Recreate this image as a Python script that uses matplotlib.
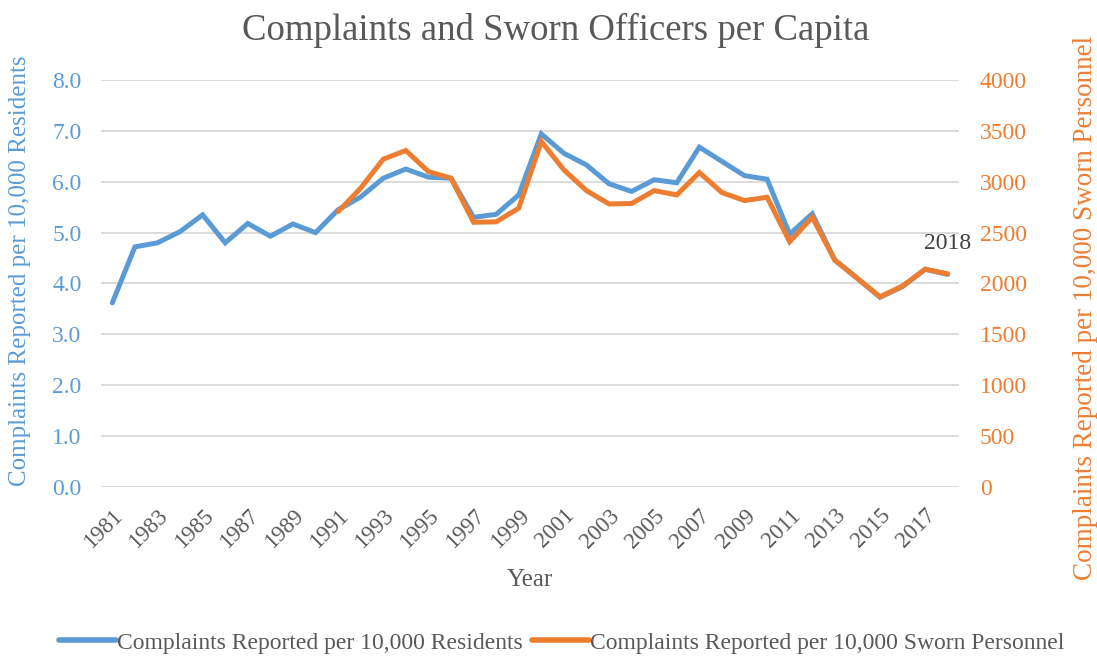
import matplotlib
matplotlib.use("Agg")
import matplotlib.pyplot as plt
from matplotlib.lines import Line2D

plt.rcParams['font.family'] = ['Liberation Serif', 'DejaVu Serif']

years = list(range(1981, 2019))
residents = [3.62, 4.72, 4.80, 5.02, 5.35, 4.80, 5.18, 4.93, 5.17, 5.00,
             5.45, 5.70, 6.07, 6.25, 6.09, 6.07, 5.30, 5.36, 5.74, 6.94,
             6.56, 6.33, 5.96, 5.81, 6.04, 5.98, 6.68, 6.40, 6.12, 6.05,
             4.97, 5.37, 4.46, 4.10, 3.73, 3.94, 4.28, 4.18]
sworn_years = list(range(1991, 2019))
sworn = [2706, 2937, 3222, 3307, 3100, 3035, 2602, 2606, 2740, 3396,
         3117, 2913, 2782, 2786, 2913, 2871, 3091, 2894, 2815, 2848,
         2411, 2651, 2230, 2050, 1870, 1975, 2140, 2095]

blue = '#5B9BD5'
orange = '#ED7D31'
gray = '#595959'

fig = plt.figure(figsize=(10.97, 6.58), dpi=100)
ax = fig.add_axes([0.0921, 0.2599, 0.7821, 0.6185])
ax2 = ax.twinx()

ax.plot(years, residents, color=blue, lw=3.6, solid_capstyle='round', solid_joinstyle='miter', zorder=3)
ax2.plot(sworn_years, sworn, color=orange, lw=3.6, solid_capstyle='round', solid_joinstyle='miter', zorder=3)

ax.set_xlim(1980.5, 2018.5)
ax.set_ylim(0, 8)
ax2.set_ylim(0, 4000)
ax.set_yticks(range(9))
ax.set_yticklabels([f'{i:.1f}' for i in range(9)])
ax2.set_yticks(range(0, 4001, 500))

ax.set_xticks(years[::2])
ax.set_xticklabels([str(y) for y in years[::2]], rotation=45, ha='right',
                   rotation_mode='anchor', color=gray, fontsize=16.5)

ax.grid(axis='y', color='#D9D9D9', lw=1.3)
ax.set_axisbelow(True)
for a in (ax, ax2):
    for s in a.spines.values():
        s.set_visible(False)
    a.tick_params(length=0)
ax.tick_params(axis='y', colors=blue, labelsize=17, pad=14)
ax.tick_params(axis='x', pad=13)
ax2.tick_params(axis='y', colors=orange, labelsize=17, pad=15)

ax.set_xlabel('Year', color=gray, fontsize=18)
ax.xaxis.set_label_coords(0.5, -0.2285)
ax.xaxis.label.set_va('center')
ax.set_ylabel('Complaints Reported per 10,000 Residents', color=blue, fontsize=18)
ax.yaxis.set_label_coords(-0.0944, 0.531)
ax.yaxis.label.set_va('center')
ax2.set_ylabel('Complaints Reported per 10,000 Sworn Personnel', color=orange, fontsize=19.5,
               rotation=90)
ax2.yaxis.set_label_coords(1.147, 0.44)
ax2.yaxis.label.set_va('center')

ax.annotate('2018', xy=(years[-1], residents[-1]), xytext=(0, 22),
            textcoords='offset points', ha='center', va='center',
            color='#404040', fontsize=17)

fig.text(0.507, 0.954, 'Complaints and Sworn Officers per Capita', color=gray,
         fontsize=26.5, ha='center', va='center')

handles = [Line2D([], [], color=blue, lw=4, solid_capstyle='round'),
           Line2D([], [], color=orange, lw=4, solid_capstyle='round')]
fig.legend(handles, ['Complaints Reported per 10,000 Residents',
                     'Complaints Reported per 10,000 Sworn Personnel'],
           loc='center', bbox_to_anchor=(0.512, 0.023), ncol=2, frameon=False,
           fontsize=17, handlelength=2.4, handletextpad=0.05, columnspacing=0.4,
           labelcolor=gray, borderaxespad=0)

fig.savefig('out.png', dpi=100)
